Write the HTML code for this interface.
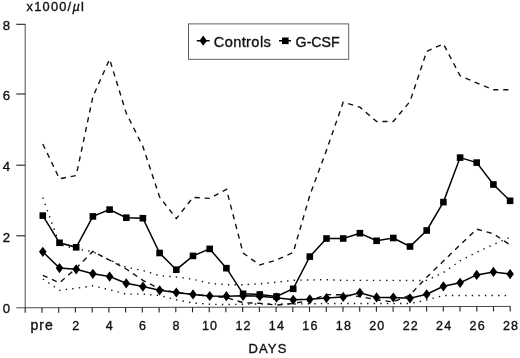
<!DOCTYPE html>
<html><head><meta charset="utf-8"><title>chart</title>
<style>
html,body{margin:0;padding:0;background:#fff;}
body{width:520px;height:358px;overflow:hidden;}
svg{display:block;will-change:transform;}
text{font-family:"Liberation Sans",sans-serif;fill:#111;}
</style></head><body>
<svg width="520" height="358" viewBox="0 0 520 358">
<rect width="520" height="358" fill="#fff"/>

<g stroke="#4a4a4a" stroke-width="1" fill="none">
<path d="M25.2,24 V307.8"/>
<path d="M16.3,307.8 L510.6,306.4"/>
</g>
<g stroke="#222" stroke-width="1.1" fill="none">
<path d="M16.3,24.3 H25.2"/>
<path d="M16.3,94 H25.2"/>
<path d="M16.3,165.2 H25.2"/>
<path d="M16.3,235.8 H25.2"/>
<path d="M42.0,307.7 V312.7"/>
<path d="M58.7,307.7 V312.7"/>
<path d="M75.4,307.6 V312.6"/>
<path d="M92.2,307.6 V312.6"/>
<path d="M108.9,307.5 V312.5"/>
<path d="M125.6,307.5 V312.5"/>
<path d="M142.3,307.4 V312.4"/>
<path d="M159.1,307.4 V312.4"/>
<path d="M175.8,307.3 V312.3"/>
<path d="M192.5,307.3 V312.3"/>
<path d="M209.2,307.2 V312.2"/>
<path d="M225.9,307.2 V312.2"/>
<path d="M242.7,307.1 V312.1"/>
<path d="M259.4,307.1 V312.1"/>
<path d="M276.1,307.0 V312.0"/>
<path d="M292.8,307.0 V312.0"/>
<path d="M309.5,306.9 V311.9"/>
<path d="M326.3,306.9 V311.9"/>
<path d="M343.0,306.8 V311.8"/>
<path d="M359.7,306.8 V311.8"/>
<path d="M376.4,306.7 V311.7"/>
<path d="M393.1,306.7 V311.7"/>
<path d="M409.9,306.6 V311.6"/>
<path d="M426.6,306.6 V311.6"/>
<path d="M443.3,306.5 V311.5"/>
<path d="M460.0,306.5 V311.5"/>
<path d="M476.8,306.4 V311.4"/>
<path d="M493.5,306.4 V311.4"/>
<path d="M510.2,306.4 V311.4"/>
<path d="M25.2,307.8 V312.8"/>
</g>
<g stroke="#111" stroke-width="0.35">
<text x="6.5" y="30.2" font-size="13.2" text-anchor="middle">8</text>
<text x="6.5" y="99.9" font-size="13.2" text-anchor="middle">6</text>
<text x="6.5" y="171.1" font-size="13.2" text-anchor="middle">4</text>
<text x="6.5" y="241.7" font-size="13.2" text-anchor="middle">2</text>
<text x="6.5" y="313.3" font-size="13.2" text-anchor="middle">0</text>
<text x="42.2" y="330.3" font-size="14" text-anchor="middle" letter-spacing="1">pre</text>
<text x="76.3" y="330.3" font-size="12.5" text-anchor="middle" letter-spacing="1.2">2</text>
<text x="109.8" y="330.3" font-size="12.5" text-anchor="middle" letter-spacing="1.2">4</text>
<text x="143.2" y="330.3" font-size="12.5" text-anchor="middle" letter-spacing="1.2">6</text>
<text x="176.7" y="330.3" font-size="12.5" text-anchor="middle" letter-spacing="1.2">8</text>
<text x="210.1" y="330.3" font-size="12.5" text-anchor="middle" letter-spacing="1.2">10</text>
<text x="243.6" y="330.3" font-size="12.5" text-anchor="middle" letter-spacing="1.2">12</text>
<text x="277.0" y="330.3" font-size="12.5" text-anchor="middle" letter-spacing="1.2">14</text>
<text x="310.4" y="330.3" font-size="12.5" text-anchor="middle" letter-spacing="1.2">16</text>
<text x="343.9" y="330.3" font-size="12.5" text-anchor="middle" letter-spacing="1.2">18</text>
<text x="377.3" y="330.3" font-size="12.5" text-anchor="middle" letter-spacing="1.2">20</text>
<text x="410.8" y="330.3" font-size="12.5" text-anchor="middle" letter-spacing="1.2">22</text>
<text x="444.2" y="330.3" font-size="12.5" text-anchor="middle" letter-spacing="1.2">24</text>
<text x="477.7" y="330.3" font-size="12.5" text-anchor="middle" letter-spacing="1.2">26</text>
<text x="511.1" y="330.3" font-size="12.5" text-anchor="middle" letter-spacing="1.2">28</text>
<text x="268" y="353.3" font-size="13" text-anchor="middle" letter-spacing="1.2">DAYS</text>
<text x="26.5" y="11.3" font-size="12.8" letter-spacing="1.25">x1000/<tspan font-style="italic">µ</tspan>l</text>
</g>
<polyline points="42.8,197.5 59.5,244.5 76.2,249.0 92.9,251.6 109.6,260.0 126.2,267.3 142.9,270.5 159.6,275.6 176.3,277.0 193.0,279.3 209.7,283.3 226.4,284.7 243.1,284.7 259.8,283.8 276.5,282.2 293.2,280.3 309.8,280.0 326.5,279.7 343.2,280.4 359.9,280.4 376.6,280.4 393.3,280.4 410.0,280.6 426.7,280.4 443.4,272.6 460.1,260.8 476.7,252.3 493.4,244.5 510.1,237.3" fill="none" stroke="#111" stroke-width="1.4" stroke-dasharray="1.4 5.2"/>
<polyline points="42.8,279.0 59.5,290.3 76.2,288.3 92.9,285.8 109.6,289.8 126.2,294.1 142.9,294.1 159.6,295.5 176.3,299.8 193.0,303.0 209.7,304.2 226.4,304.6 243.1,304.2 259.8,304.0 276.5,304.0 293.2,304.0 309.8,303.8 326.5,303.6 343.2,303.5 359.9,303.5 376.6,303.5 393.3,303.5 410.0,303.5 426.7,300.0 443.4,295.5 460.1,295.5 476.7,295.5 493.4,295.5 510.1,295.5" fill="none" stroke="#111" stroke-width="1.4" stroke-dasharray="1.4 5.2"/>
<polyline points="42.8,144.0 59.5,178.8 76.2,175.5 92.9,96.6 109.6,59.2 126.2,113.0 142.9,146.5 159.6,197.0 176.3,218.6 193.0,197.4 209.7,198.4 226.4,189.3 243.1,253.0 259.8,265.0 276.5,260.0 293.2,252.5 309.8,195.4 326.5,150.2 343.2,102.2 359.9,107.2 376.6,121.5 393.3,121.5 410.0,101.5 426.7,51.4 443.4,43.9 460.1,75.8 476.7,82.9 493.4,89.7 510.1,89.7" fill="none" stroke="#111" stroke-width="1.4" stroke-dasharray="5.2 4.8"/>
<polyline points="42.8,275.3 59.5,282.8 76.2,268.2 92.9,251.4 109.6,260.2 126.2,269.0 142.9,280.3 159.6,289.0 176.3,292.5 193.0,294.5 209.7,296.0 226.4,297.5 243.1,302.7 259.8,303.3 276.5,305.0 293.2,303.5 309.8,300.5 326.5,294.6 343.2,294.8 359.9,296.5 376.6,299.7 393.3,302.0 410.0,295.0 426.7,277.2 443.4,261.1 460.1,244.9 476.7,229.2 493.4,233.8 510.1,244.9" fill="none" stroke="#111" stroke-width="1.4" stroke-dasharray="5.2 4.8"/>
<polyline points="42.8,215.6 59.5,242.8 76.2,247.3 92.9,216.4 109.6,209.6 126.2,217.7 142.9,218.2 159.6,253.0 176.3,269.7 193.0,255.9 209.7,248.9 226.4,268.2 243.1,293.8 259.8,294.5 276.5,296.5 293.2,288.8 309.8,256.6 326.5,238.5 343.2,238.5 359.9,233.2 376.6,240.8 393.3,238.0 410.0,246.5 426.7,230.5 443.4,202.1 460.1,157.6 476.7,162.6 493.4,184.5 510.1,200.8" fill="none" stroke="#000" stroke-width="1.5"/>
<polyline points="42.8,251.8 59.5,268.1 76.2,269.3 92.9,273.8 109.6,276.6 126.2,283.3 142.9,286.6 159.6,290.3 176.3,292.5 193.0,294.4 209.7,296.0 226.4,296.2 243.1,295.8 259.8,296.2 276.5,297.7 293.2,299.8 309.8,299.3 326.5,298.1 343.2,296.9 359.9,292.8 376.6,297.4 393.3,297.5 410.0,298.3 426.7,294.3 443.4,286.3 460.1,282.8 476.7,274.9 493.4,271.9 510.1,274.1" fill="none" stroke="#000" stroke-width="1.5"/>
<g fill="#000">
<rect x="39.5" y="212.3" width="6.6" height="6.6"/>
<rect x="56.2" y="239.5" width="6.6" height="6.6"/>
<rect x="72.9" y="244.0" width="6.6" height="6.6"/>
<rect x="89.6" y="213.1" width="6.6" height="6.6"/>
<rect x="106.3" y="206.3" width="6.6" height="6.6"/>
<rect x="123.0" y="214.4" width="6.6" height="6.6"/>
<rect x="139.6" y="214.9" width="6.6" height="6.6"/>
<rect x="156.3" y="249.7" width="6.6" height="6.6"/>
<rect x="173.0" y="266.4" width="6.6" height="6.6"/>
<rect x="189.7" y="252.6" width="6.6" height="6.6"/>
<rect x="206.4" y="245.6" width="6.6" height="6.6"/>
<rect x="223.1" y="264.9" width="6.6" height="6.6"/>
<rect x="239.8" y="290.5" width="6.6" height="6.6"/>
<rect x="256.5" y="291.2" width="6.6" height="6.6"/>
<rect x="273.2" y="293.2" width="6.6" height="6.6"/>
<rect x="289.9" y="285.5" width="6.6" height="6.6"/>
<rect x="306.5" y="253.3" width="6.6" height="6.6"/>
<rect x="323.2" y="235.2" width="6.6" height="6.6"/>
<rect x="339.9" y="235.2" width="6.6" height="6.6"/>
<rect x="356.6" y="229.9" width="6.6" height="6.6"/>
<rect x="373.3" y="237.5" width="6.6" height="6.6"/>
<rect x="390.0" y="234.7" width="6.6" height="6.6"/>
<rect x="406.7" y="243.2" width="6.6" height="6.6"/>
<rect x="423.4" y="227.2" width="6.6" height="6.6"/>
<rect x="440.1" y="198.8" width="6.6" height="6.6"/>
<rect x="456.8" y="154.3" width="6.6" height="6.6"/>
<rect x="473.4" y="159.3" width="6.6" height="6.6"/>
<rect x="490.1" y="181.2" width="6.6" height="6.6"/>
<rect x="506.8" y="197.5" width="6.6" height="6.6"/>
<path d="M42.8,246.7 L46.6,251.8 L42.8,256.9 L39.0,251.8Z"/>
<path d="M59.5,263.0 L63.3,268.1 L59.5,273.2 L55.7,268.1Z"/>
<path d="M76.2,264.2 L80.0,269.3 L76.2,274.4 L72.4,269.3Z"/>
<path d="M92.9,268.7 L96.7,273.8 L92.9,278.9 L89.1,273.8Z"/>
<path d="M109.6,271.5 L113.4,276.6 L109.6,281.7 L105.8,276.6Z"/>
<path d="M126.2,278.2 L130.1,283.3 L126.2,288.4 L122.5,283.3Z"/>
<path d="M142.9,281.5 L146.7,286.6 L142.9,291.7 L139.1,286.6Z"/>
<path d="M159.6,285.2 L163.4,290.3 L159.6,295.4 L155.8,290.3Z"/>
<path d="M176.3,287.4 L180.1,292.5 L176.3,297.6 L172.5,292.5Z"/>
<path d="M193.0,289.3 L196.8,294.4 L193.0,299.5 L189.2,294.4Z"/>
<path d="M209.7,290.9 L213.5,296.0 L209.7,301.1 L205.9,296.0Z"/>
<path d="M226.4,291.1 L230.2,296.2 L226.4,301.3 L222.6,296.2Z"/>
<path d="M243.1,290.7 L246.9,295.8 L243.1,300.9 L239.3,295.8Z"/>
<path d="M259.8,291.1 L263.6,296.2 L259.8,301.3 L256.0,296.2Z"/>
<path d="M276.5,292.6 L280.3,297.7 L276.5,302.8 L272.7,297.7Z"/>
<path d="M293.2,294.7 L297.0,299.8 L293.2,304.9 L289.4,299.8Z"/>
<path d="M309.8,294.2 L313.6,299.3 L309.8,304.4 L306.0,299.3Z"/>
<path d="M326.5,293.0 L330.3,298.1 L326.5,303.2 L322.7,298.1Z"/>
<path d="M343.2,291.8 L347.0,296.9 L343.2,302.0 L339.4,296.9Z"/>
<path d="M359.9,287.7 L363.7,292.8 L359.9,297.9 L356.1,292.8Z"/>
<path d="M376.6,292.3 L380.4,297.4 L376.6,302.5 L372.8,297.4Z"/>
<path d="M393.3,292.4 L397.1,297.5 L393.3,302.6 L389.5,297.5Z"/>
<path d="M410.0,293.2 L413.8,298.3 L410.0,303.4 L406.2,298.3Z"/>
<path d="M426.7,289.2 L430.5,294.3 L426.7,299.4 L422.9,294.3Z"/>
<path d="M443.4,281.2 L447.2,286.3 L443.4,291.4 L439.6,286.3Z"/>
<path d="M460.1,277.7 L463.9,282.8 L460.1,287.9 L456.3,282.8Z"/>
<path d="M476.7,269.8 L480.5,274.9 L476.7,280.0 L472.9,274.9Z"/>
<path d="M493.4,266.8 L497.2,271.9 L493.4,277.0 L489.6,271.9Z"/>
<path d="M510.1,269.0 L513.9,274.1 L510.1,279.2 L506.3,274.1Z"/>
</g>
<rect x="188.5" y="23.9" width="160.2" height="35.4" fill="#fff" stroke="#505050" stroke-width="0.9"/>
<path d="M196.8,40.7 H209.6 M279,40.7 H291" stroke="#000" stroke-width="1.5"/>
<path d="M203.2,35.6 L206.9,40.7 L203.2,45.8 L199.5,40.7Z" fill="#000"/>
<rect x="282" y="37.5" width="6.6" height="6.6" fill="#000"/>
<text x="213.7" y="47" font-size="14.6" letter-spacing="0.4" stroke="#111" stroke-width="0.35">Controls</text>
<text x="295.6" y="47" font-size="14.2" letter-spacing="0" stroke="#111" stroke-width="0.35">G-CSF</text>
</svg></body></html>
